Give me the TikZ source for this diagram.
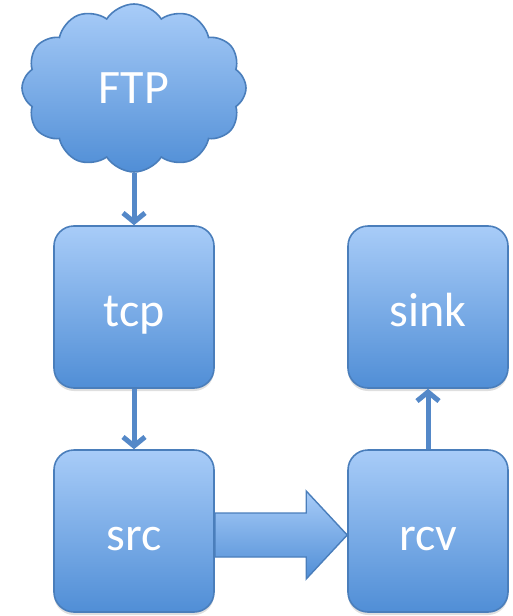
\documentclass[tikz,border=0pt]{standalone}
\usepackage{fontspec}
\setmainfont{Carlito}
\usetikzlibrary{shapes.symbols, arrows.meta, positioning, calc, shadows}
\definecolor{boxtop}{RGB}{168,204,248}
\definecolor{boxbottom}{RGB}{80,142,214}
\definecolor{edgeblue}{RGB}{74,126,187}
\definecolor{linkblue}{RGB}{84,136,200}

\begin{document}
\begin{tikzpicture}[
        x=1pt, y=-1pt,
        block/.style={rectangle, rounded corners=20pt, draw=edgeblue, line width=1.6pt, top color=boxtop, bottom color=boxbottom, minimum width=160pt, minimum height=162pt, text height=48pt, text depth=10pt, font=\fontsize{48}{52}\selectfont, text=white, drop shadow={opacity=0.25, shadow xshift=0pt, shadow yshift=-3pt}},
        source/.style={cloud, cloud puffs=12, cloud puff arc=115, aspect=1.3, draw=edgeblue, line width=1.6pt, top color=boxtop, bottom color=boxbottom, minimum width=224pt, minimum height=168pt, font=\fontsize{48}{52}\selectfont, text=white},
        link/.style={linkblue, line width=5pt, -{Straight Barb[length=9pt, width=22pt, line width=5pt]}},
        bigarrow/.style={draw=edgeblue, line width=1.4pt, top color=boxtop, bottom color=boxbottom}
    ]
        \useasboundingbox (0,0) rectangle (512,616);

        \node[source] (ftp) at (134,88) {FTP};
        \node[block] (tcp) at (134,307) {tcp};
        \node[block] (src) at (134,531) {src};
        \node[block] (sink) at (428,307) {sink};
        \node[block] (rcv) at (428,531) {rcv};

        \draw[link] (ftp.south) -- (tcp.north);
        \draw[link] (tcp.south) -- (src.north);
        \draw[link] (rcv.north) -- (sink.south);

        % wide arrow from src to rcv
        \coordinate (a) at ($(src.east)+(0,4)$);
        \coordinate (b) at ($(rcv.west)+(0,4)$);
        \draw[bigarrow] ($(a)+(0,-22)$) -- ($(b)+(-41,-22)$) -- ($(b)+(-41,-44)$) -- (b)
            -- ($(b)+(-41,44)$) -- ($(b)+(-41,22)$) -- ($(a)+(0,22)$) -- cycle;
    \end{tikzpicture}
\end{document}
